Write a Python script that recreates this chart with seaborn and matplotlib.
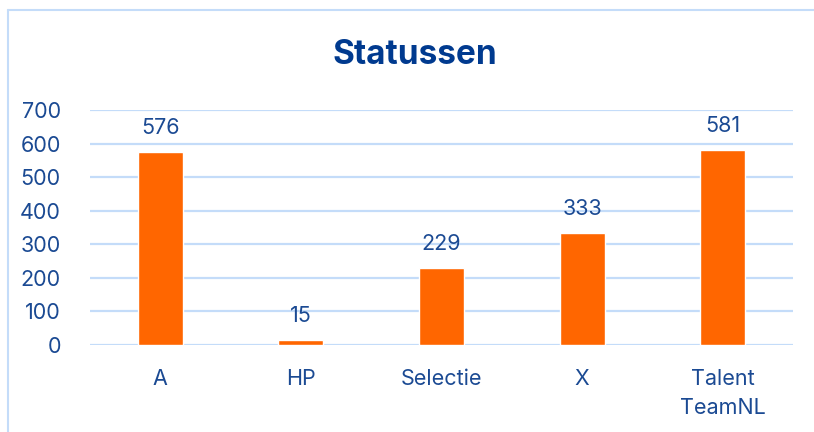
import pandas as pd
import matplotlib
matplotlib.use('Agg')
import matplotlib.pyplot as plt
from matplotlib.lines import Line2D
import seaborn as sns

# data
statussen = ['A', 'HP', 'Selectie', 'X', 'Talent\nTeamNL']
aantallen = [576, 15, 229, 333, 581]

df = pd.DataFrame({'Status': statussen, 'Aantal': aantallen})

sns.set_theme(style="white")
plt.rcParams['font.family'] = ['Inter', 'DejaVu Sans']

tekst_kleur = '#1B4A93'
titel_kleur = '#003A8F'
lijn_kleur = '#C4DCF9'

fig = plt.figure(figsize=(8.14, 4.32), dpi=100)
ax = fig.add_axes([90 / 814, 1 - 345 / 432, 703 / 814, 235 / 432])

sns.barplot(data=df, x='Status', y='Aantal', color='#FF6600', width=0.32,
            saturation=1, ax=ax)

ax.set_ylim(0, 700)
ax.set_yticks(range(0, 701, 100))
ax.grid(axis='y', color=lijn_kleur, linewidth=1.6)
ax.set_axisbelow(True)
for s in ax.spines.values():
    s.set_visible(False)
ax.tick_params(axis='both', length=0, labelsize=15.5, colors=tekst_kleur)
ax.tick_params(axis='y', pad=21)
ax.tick_params(axis='x', pad=17)
for lbl in ax.get_xticklabels():
    lbl.set_linespacing(1.6)
ax.set_xlabel('')
ax.set_ylabel('')

for i, v in enumerate(aantallen):
    ax.annotate(str(v), (i, v), xytext=(0, 10), textcoords='offset points',
                ha='center', va='bottom', fontsize=15.5, color=tekst_kleur)

fig.text(415 / 814, 1 - 55 / 432, 'Statussen', ha='center', va='center',
         fontsize=24, fontweight='bold', color=titel_kleur)

# rand om de grafiek
fig.add_artist(Line2D([7.5 / 814, 1], [1 - 10 / 432, 1 - 10 / 432],
                      color=lijn_kleur, linewidth=1.5))
fig.add_artist(Line2D([7.5 / 814, 7.5 / 814], [0, 1 - 10 / 432],
                      color=lijn_kleur, linewidth=1.5))

fig.savefig('out.png', dpi=100)
plt.close(fig)
